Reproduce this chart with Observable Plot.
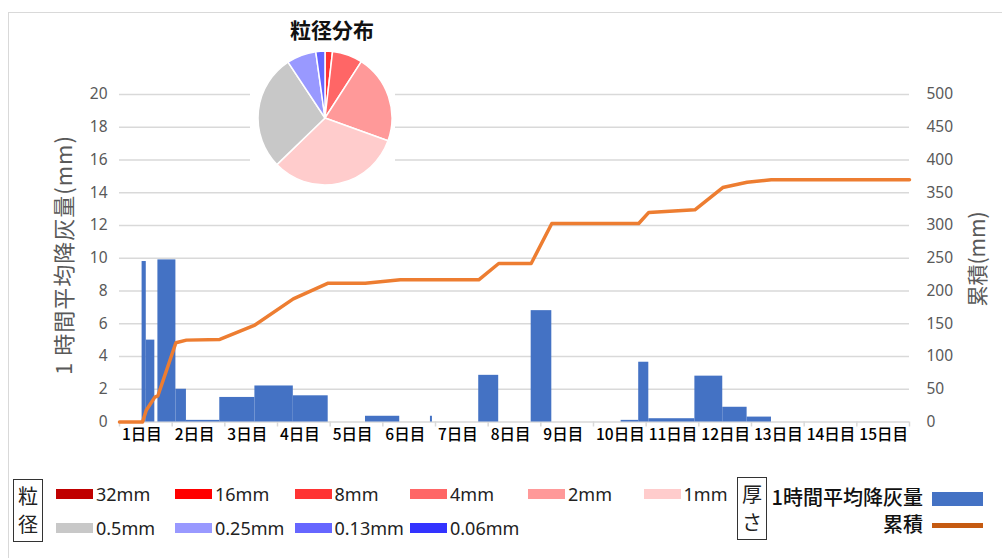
<!DOCTYPE html>
<html>
<head>
<meta charset="utf-8">
<script src="https://cdn.jsdelivr.net/npm/d3@7"></script>
<script src="https://cdn.jsdelivr.net/npm/@observablehq/plot@0.6"></script>
<style>
  html, body { margin: 0; padding: 0; background: #fff; }
  #root { position: relative; width: 1002px; height: 558px; overflow: hidden; background: #fff;
          font-family: "Noto Sans CJK JP", "Noto Sans", sans-serif; }
  #root > * { position: absolute; }
  .frame { left: 8px; top: 12px; width: 1000px; height: 560px;
           border-top: 1.5px solid #d9d9d9; border-left: 1.5px solid #d9d9d9; box-sizing: border-box; }
  .layer { left: 0; top: 0; }
  .ytitle { white-space: nowrap; color: #595959; font-size: 21px; line-height: 24px; transform: translate(-50%, -50%) rotate(-90deg); }
  .boxlabel { border: 1.5px solid #333; box-sizing: border-box; font-size: 20px; line-height: 28px;
              text-align: center; color: #222; }
  .swatch { height: 10px; }
  .lg { font-family: "Noto Sans", sans-serif; font-size: 18px; color: #222; line-height: 20px; transform: translateY(-50%); white-space: nowrap; }
  .lgj { font-size: 20px; font-weight: 500; color: #111; line-height: 22px; transform: translate(-100%, -50%); white-space: nowrap; }
  .pietitle { font-size: 21px; font-weight: 700; color: #111; line-height: 24px; transform: translate(-50%, -50%); white-space: nowrap; }
  g[aria-label="day labels"] text { letter-spacing: -2.5px; }
</style>
</head>
<body>
<div id="root"></div>
<script>
// Hourly average ash fall, one bar per observation interval (hours since start of day 1)
const barStart  = [10.3, 12.2, 17.5, 25.7, 30.5, 45.7, 61.7, 79.2, 112.1, 141.7, 163.7, 187.6, 228.6, 236.6, 241.2, 262.2, 274.9, 286.0];
const barEnd    = [12.2, 16.1, 25.7, 30.5, 45.7, 61.7, 79.2, 95.1, 127.7, 142.6, 172.8, 197.0, 236.6, 241.2, 262.2, 274.9, 286.0, 297.1];
const hourlyAsh = [9.8, 5.0, 9.9, 2.0, 0.1, 1.5, 2.2, 1.6, 0.35, 0.35, 2.85, 6.8, 0.1, 3.65, 0.2, 2.8, 0.9, 0.3];

// Accumulated deposit thickness (mm)
const cumHours = [0, 10.5, 12.2, 16.1, 17.5, 25.7, 30.5, 45.7, 61.7, 79.2, 95.1, 112, 128, 163.7, 172.8, 187.6, 197, 236.6, 241.2, 262.2, 274.9, 286, 297, 360];
const cumDepth = [0, 0, 18, 38, 40, 121, 125, 126, 148, 188, 212, 212, 217, 217, 242, 242, 303, 303, 320, 324, 358, 366, 370, 370];

// Axes
const dayLabels  = ["1日目","2日目","3日目","4日目","5日目","6日目","7日目","8日目","9日目","10日目","11日目","12日目","13日目","14日目","15日目"];
const dayEdges   = [0, 24, 48, 72, 96, 120, 144, 168, 192, 216, 240, 264, 288, 312, 336, 360];
const leftTicks  = [0, 2, 4, 6, 8, 10, 12, 14, 16, 18, 20];
const rightTicks = [0, 50, 100, 150, 200, 250, 300, 350, 400, 450, 500];

// Grain size distribution (%)
const grainSizes  = ["32mm","16mm","8mm","4mm","2mm","1mm","0.5mm","0.25mm","0.13mm","0.06mm"];
const grainShare  = [0, 0, 1.8, 7.3, 21.4, 32.2, 27.9, 7.1, 2.2, 0];
const grainColors = ["#c00000","#ff0000","#ff3333","#ff6666","#ff9999","#ffcccc","#c8c8c8","#9999ff","#6666ff","#3333ff"];

const root = document.getElementById("root");
const NUM_FONT = '"Noto Sans", sans-serif';
const JP_FONT = '"Noto Sans CJK JP", "Noto Sans", sans-serif';

const ashBars = barStart.map((s, i) => ({start: s, end: barEnd[i], value: hourlyAsh[i]}));
const cumSeries = cumHours.map((h, i) => ({hour: h, depth: cumDepth[i]}));

const frame = {width: 1002, height: 461, marginLeft: 119, marginRight: 93, marginTop: 94, marginBottom: 39.5};

const add = (el, cls) => { if (cls) el.classList.add(cls); root.appendChild(el); return el; };
const div = (cls, css, text) => {
  const d = document.createElement("div");
  d.className = cls || "";
  Object.assign(d.style, css);
  if (text != null) d.textContent = text;
  root.appendChild(d);
  return d;
};

div("frame", {});

// Hourly bars, grid and axes
const main = Plot.plot({
  ...frame,
  style: {fontFamily: NUM_FONT, background: "transparent", overflow: "visible"},
  x: {domain: [0, 360], label: null},
  y: {domain: [0, 20], label: null},
  marks: [
    Plot.gridY({ticks: leftTicks, stroke: "#d9d9d9", strokeOpacity: 1, strokeWidth: 1.5}),
    Plot.axisX({ticks: dayEdges, tickSize: 5, tickFormat: () => "", stroke: "#d9d9d9", strokeWidth: 1.5, label: null}),
    Plot.rect(ashBars, {x1: "start", x2: "end", y1: () => 0, y2: "value", fill: "#4472c4"}),
    Plot.axisY({ticks: leftTicks, tickSize: 0, tickPadding: 12, color: "#595959", fontSize: 15.5, label: null}),
    Plot.text(dayLabels, {
      x: (d, i) => dayEdges[i], text: d => d, frameAnchor: "bottom", lineAnchor: "top",
      textAnchor: "start", dx: 2.5, dy: 7, fontSize: 15.5, fontWeight: 500, fill: "#000",
      fontFamily: JP_FONT, ariaLabel: "day labels"
    })
  ]
});
add(main, "layer");

// Accumulated thickness on the right-hand scale
const overlay = Plot.plot({
  ...frame,
  style: {fontFamily: NUM_FONT, background: "transparent", overflow: "visible"},
  x: {domain: [0, 360], axis: null, label: null},
  y: {domain: [0, 500], axis: null, label: null},
  marks: [
    Plot.line(cumSeries, {x: "hour", y: "depth", stroke: "#ed7d31", strokeWidth: 3.5, strokeLinejoin: "round"}),
    Plot.axisY({anchor: "right", ticks: rightTicks, tickSize: 0, tickPadding: 17, color: "#595959", fontSize: 15.5, label: null})
  ]
});
add(overlay, "layer");

// Axis titles
div("ytitle", {left: "62px", top: "255px", fontSize: "22px", letterSpacing: "1px"}, "1 時間平均降灰量(mm)");
div("ytitle", {left: "976px", top: "259px"}, "累積(mm)");

// Grain size pie inset
const pieColor = Plot.scale({color: {type: "ordinal", domain: grainSizes, range: grainColors}});
const grains = grainSizes.map((g, i) => ({size: g, share: grainShare[i]}));
const pieW = 145, pieH = 174, pieCx = 75, pieCy = 104, pieR = 67;
const pieSvg = d3.create("svg").attr("width", pieW).attr("height", pieH)
  .style("background", "#fff").style("left", "250px").style("top", "14px");
const arcs = d3.pie().sort(null).value(d => d.share)(grains).filter(a => a.data.share > 0);
const arcPath = d3.arc().innerRadius(0).outerRadius(pieR);
pieSvg.append("g").attr("transform", `translate(${pieCx},${pieCy})`)
  .selectAll("path").data(arcs).join("path")
  .attr("d", arcPath).attr("fill", a => pieColor.apply(a.data.size))
  .attr("stroke", "#fff").attr("stroke-width", 1.5).attr("stroke-linejoin", "round");
add(pieSvg.node());
div("pietitle", {left: "332px", top: "29px"}, "粒径分布");

// Legend: grain sizes
div("boxlabel", {left: "13px", top: "479px", width: "30px", height: "63px", paddingTop: "2px"}).innerHTML = "粒<br>径";
const colX = [56, 175, 294.5, 410, 528, 643.5];
const rowY = [494, 528];
grainSizes.forEach((g, i) => {
  const r = i < 6 ? 0 : 1, c = i < 6 ? i : i - 6;
  div("swatch", {left: colX[c] + "px", top: (rowY[r] - 5) + "px", width: "37px", background: pieColor.apply(g)});
  div("lg", {left: (colX[c] + 40) + "px", top: rowY[r] + "px"}, g);
});

// Legend: thickness series
div("boxlabel", {left: "737px", top: "477px", width: "30px", height: "63px", paddingTop: "2px"}).innerHTML = "厚<br>さ";
div("lgj", {left: "923px", top: "497px"}, "1時間平均降灰量");
div("lgj", {left: "923px", top: "524px"}, "累積");
div("swatch", {left: "932px", top: "492px", width: "51px", height: "14px", background: "#4472c4"});
div("swatch", {left: "932px", top: "522.5px", width: "51px", height: "5px", background: "#c55a11"});
</script>
</body>
</html>
